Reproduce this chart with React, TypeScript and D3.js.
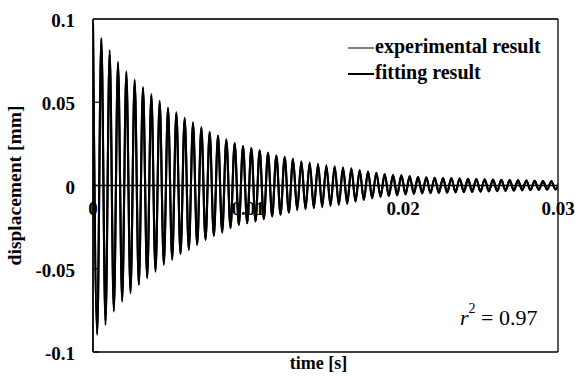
import React from "react";
import * as d3 from "d3";

// ---- data ----
// time between successive extrema of the oscillation [s]
const halfPeriod = 0.00026882;
// experimental value at t = 0 [mm]
const expStart = 0.097;
// experimental positive extrema (one per cycle) [mm]
const expPeaks = [
  0.0874, 0.0788, 0.0728, 0.0674, 0.0623, 0.0584, 0.0539, 0.0497, 0.0459, 0.0431,
  0.0399, 0.0371, 0.0344, 0.0317, 0.0297, 0.0273, 0.0253, 0.0237, 0.0223, 0.0209,
  0.0193, 0.0177, 0.0167, 0.0157, 0.0143, 0.0133, 0.0123, 0.0113, 0.0109, 0.0103,
  0.0097, 0.0089, 0.0083, 0.0077, 0.0069, 0.0063, 0.0063, 0.0057, 0.0053, 0.0049,
  0.0047, 0.0045, 0.0044, 0.0042, 0.004, 0.0039, 0.0037, 0.0035, 0.0034, 0.0032,
  0.0031, 0.0029, 0.0028, 0.0026, 0.0025, 0.0024,
];
// experimental negative extrema (one per cycle) [mm]
const expTroughs = [
  -0.0898, -0.0838, -0.0758, -0.0698, -0.0648, -0.0598, -0.0558, -0.0518, -0.0477, -0.0447,
  -0.0413, -0.0387, -0.0357, -0.0327, -0.0303, -0.0283, -0.0257, -0.0237, -0.0227, -0.0217,
  -0.0203, -0.0187, -0.0177, -0.0163, -0.0147, -0.0143, -0.0137, -0.0131, -0.0123, -0.0117,
  -0.0111, -0.0097, -0.0087, -0.0077, -0.0067, -0.0063, -0.0057, -0.0051, -0.0047, -0.0046,
  -0.0045, -0.0043, -0.0042, -0.004, -0.0039, -0.0037, -0.0036, -0.0034, -0.0033, -0.0031,
  -0.003, -0.0028, -0.0027, -0.0025, -0.0024, -0.0023,
];
// fitted amplitude per cycle [mm]
const fitStart = 0.095;
const fitEnvelope = [
  0.0886, 0.0813, 0.0743, 0.0686, 0.0636, 0.0591, 0.0549, 0.0508, 0.0468, 0.0439,
  0.0406, 0.0379, 0.0351, 0.0322, 0.03, 0.0278, 0.0255, 0.0237, 0.0225, 0.0213,
  0.0198, 0.0182, 0.0172, 0.016, 0.0145, 0.0138, 0.013, 0.0122, 0.0116, 0.011,
  0.0104, 0.0093, 0.0085, 0.0077, 0.0068, 0.0063, 0.006, 0.0054, 0.005, 0.0048,
  0.0046, 0.0045, 0.0043, 0.0042, 0.004, 0.0039, 0.0037, 0.0035, 0.0034, 0.0032,
  0.0031, 0.0029, 0.0028, 0.0026, 0.0025, 0.0024,
];

const xTicks = [0, 0.01, 0.02, 0.03];
const xTickLabels = ["0", "0.01", "0.02", "0.03"];
const yTicks = [0.1, 0.05, 0, -0.05, -0.1];
const yTickLabels = ["0.1", "0.05", "0", "-0.05", "-0.1"];
const xDomain = [0, 0.03];
const yDomain = [-0.1, 0.1];
const legendLabels = ["experimental result", "fitting result"];
const xTitle = "time [s]";
const yTitle = "displacement [mm]";
const r2Value = "0.97";

// ---- layout ----
const W = 575;
const H = 376;
const M = { left: 93, right: 17, top: 19, bottom: 24 };

type Pt = [number, number];

function buildExp(): Pt[] {
  const pts: Pt[] = [[0, expStart]];
  expTroughs.forEach((v, k) => {
    pts.push([(2 * k + 1) * halfPeriod, v]);
    if (k < expPeaks.length) pts.push([(2 * k + 2) * halfPeriod, expPeaks[k]]);
  });
  return pts;
}

function buildFit(): Pt[] {
  const pts: Pt[] = [[0, fitStart]];
  fitEnvelope.forEach((a, k) => {
    pts.push([(2 * k + 1) * halfPeriod, -a]);
    pts.push([(2 * k + 2) * halfPeriod, a]);
  });
  return pts;
}

export default function App() {
  const x = d3.scaleLinear().domain(xDomain).range([M.left, W - M.right]);
  const y = d3.scaleLinear().domain(yDomain).range([H - M.bottom, M.top]);

  const expLine = d3
    .line<Pt>()
    .x((d) => x(d[0]))
    .y((d) => y(d[1]))
    .curve(d3.curveMonotoneX);
  const fitLine = d3
    .line<Pt>()
    .x((d) => x(d[0]))
    .y((d) => y(d[1]))
    .curve(d3.curveMonotoneX);

  const expPts = buildExp();
  const fitPts = buildFit();

  const serif = "'Liberation Serif', 'Times New Roman', serif";
  const x0 = x(xDomain[0]);
  const x1 = x(xDomain[1]);
  const yTop = y(yDomain[1]);
  const yBot = y(yDomain[0]);
  const yZero = y(0);

  return (
    <div style={{ position: "fixed", left: 0, top: 0 }}>
      <svg width={W} height={H} style={{ display: "block", background: "#fff" }}>
        <defs>
          <clipPath id="plotclip">
            <rect x={x0} y={yTop - 2} width={x1 - x0} height={yBot - yTop + 4} />
          </clipPath>
        </defs>

        {/* x tick labels (under the data) */}
        {xTicks.map((t, i) => (
          <text
            key={"xt" + i}
            x={x(t)}
            y={yZero + 29.5}
            textAnchor="middle"
            fontFamily={serif}
            fontWeight="bold"
            fontSize={19}
            fill="#000"
          >
            {xTickLabels[i]}
          </text>
        ))}

        {/* y tick labels */}
        {yTicks.map((t, i) => (
          <text
            key={"yt" + i}
            x={75}
            y={y(t) + 8}
            textAnchor="end"
            fontFamily={serif}
            fontWeight="bold"
            fontSize={19}
            fill="#000"
          >
            {yTickLabels[i]}
          </text>
        ))}

        {/* y ticks (inside) */}
        {yTicks.map((t, i) => (
          <line key={"ytk" + i} x1={x0} x2={x0 + 6} y1={y(t)} y2={y(t)} stroke="#000" strokeWidth={1.2} />
        ))}

        {/* data */}
        <g clipPath="url(#plotclip)">
          <path d={expLine(expPts) || ""} fill="none" stroke="#000" strokeWidth={2.1} />
          <path d={fitLine(fitPts) || ""} fill="none" stroke="#000" strokeWidth={2.1} />
        </g>

        {/* zero line */}
        <line x1={x0} x2={x1} y1={yZero} y2={yZero} stroke="#000" strokeWidth={1.6} />

        {/* frame */}
        <line x1={x0} x2={x1} y1={yTop} y2={yTop} stroke="#333" strokeWidth={2} />
        <line x1={x0} x2={x1} y1={yBot} y2={yBot} stroke="#000" strokeWidth={1.6} />
        <line x1={x0} x2={x0} y1={yTop} y2={yBot} stroke="#000" strokeWidth={1.8} />
        <line x1={x1} x2={x1} y1={yTop} y2={yBot} stroke="#000" strokeWidth={1.3} />

        {/* legend */}
        <line x1={348} x2={374} y1={48} y2={48} stroke="#000" strokeWidth={1} />
        <text x={375} y={53} fontFamily={serif} fontWeight="bold" fontSize={20} fill="#000">
          {legendLabels[0]}
        </text>
        <line x1={348} x2={374} y1={74} y2={74} stroke="#000" strokeWidth={2} />
        <text x={375} y={79} fontFamily={serif} fontWeight="bold" fontSize={20} fill="#000">
          {legendLabels[1]}
        </text>

        {/* r^2 */}
        <text x={460} y={325} fontFamily={serif} fontSize={22} fill="#000">
          <tspan fontStyle="italic">r</tspan>
          <tspan dy={-12} fontSize={14}>2</tspan>
          <tspan dy={12}>{" = " + r2Value}</tspan>
        </text>

        {/* axis titles */}
        <text
          x={318.5}
          y={369}
          textAnchor="middle"
          fontFamily={serif}
          fontWeight="bold"
          fontSize={18}
          fill="#000"
        >
          {xTitle}
        </text>
        <text
          transform={`translate(21, ${(yTop + yBot) / 2}) rotate(-90)`}
          textAnchor="middle"
          fontFamily={serif}
          fontWeight="bold"
          fontSize={19.5}
          fill="#000"
        >
          {yTitle}
        </text>
      </svg>
    </div>
  );
}
